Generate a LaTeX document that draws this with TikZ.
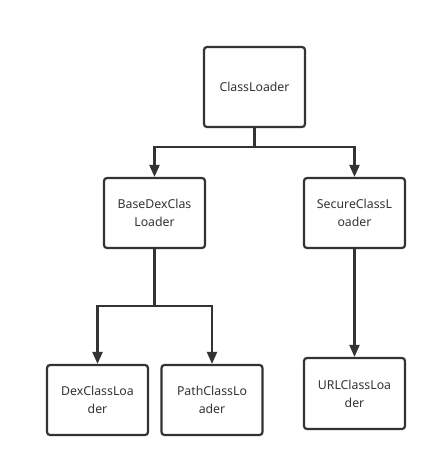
\documentclass[tikz,border=0pt]{standalone}
\usepackage{fontspec}
\setmainfont{Noto Sans}
\usetikzlibrary{arrows.meta}
\definecolor{ln}{HTML}{333333}
\begin{document}
\begin{tikzpicture}[x=1pt,y=-1pt,
  box/.style={draw=ln,line width=2.2pt,rounded corners=3pt,minimum width=101pt,minimum height=70pt,inner sep=0pt,align=center,font=\fontsize{12.3}{18}\selectfont,text=ln},
  arr/.style={draw=ln,line width=2.2pt,-{Triangle[length=12pt,width=10pt]}},
  ln/.style={draw=ln,line width=2.2pt}]
\useasboundingbox (0,0) rectangle (437,467);
\node[box,minimum height=80pt] (cl) at (254.5,87) {ClassLoader};
\node[box] (bd) at (154.5,213) {BaseDexClas\\Loader};
\node[box] (sc) at (354.5,213) {SecureClassL\\oader};
\node[box] (dx) at (97.5,400) {DexClassLoa\\der};
\node[box] (pa) at (212,400) {PathClassLo\\ader};
\node[box,minimum height=71pt] (ur) at (354.5,393.5) {URLClassLoa\\der};
\coordinate (j1) at (254.5,147);
\coordinate (j2) at (154.5,306);
\draw[ln] (cl.south) -- (j1);
\draw[arr] (j1) -| (bd.north);
\draw[arr] (j1) -| (sc.north);
\draw[ln] (bd.south) -- (j2);
\draw[arr] (j2) -| (dx.north);
\draw[arr] (j2) -| (pa.north);
\draw[arr] (sc.south) -- (ur.north);
\end{tikzpicture}
\end{document}
